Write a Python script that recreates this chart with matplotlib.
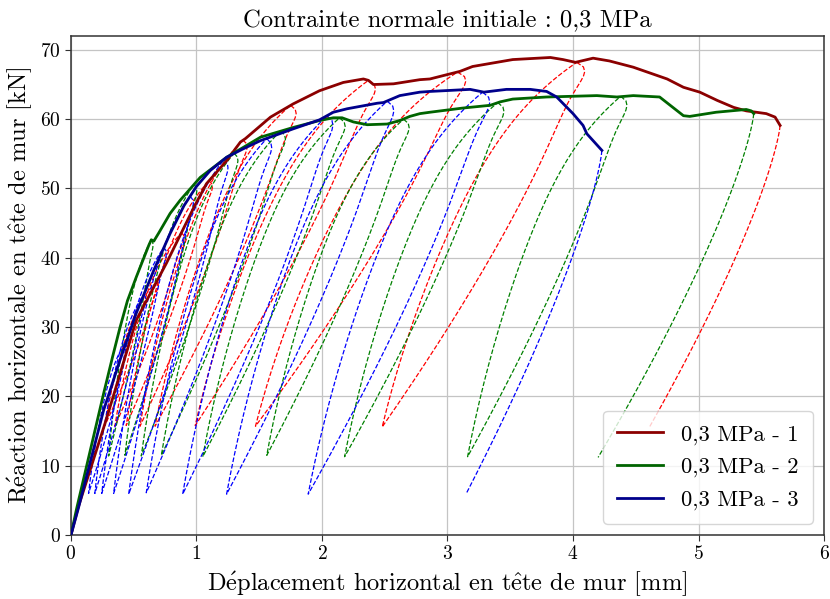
import numpy as np
import matplotlib
matplotlib.use("Agg")
import matplotlib.pyplot as plt

plt.rcParams["font.family"] = ["cmr10", "DejaVu Serif"]
plt.rcParams["mathtext.fontset"] = "cm"
plt.rcParams["axes.formatter.use_mathtext"] = True
plt.rcParams["axes.unicode_minus"] = False

# ---- monotonic envelopes (displacement mm, force kN) ----
env1_x = [0, 0.056, 0.28, 0.52, 0.76, 0.98, 1.08, 1.24, 1.35, 1.39, 1.59, 1.77, 1.98, 2.17, 2.33,
          2.37, 2.41, 2.57, 2.78, 2.86, 3.10, 3.20, 3.52, 3.82, 3.92, 4.02, 4.16, 4.29, 4.48, 4.75,
          4.88, 5.01, 5.15, 5.28, 5.38, 5.54, 5.61, 5.65]
env1_y = [0, 3.9, 16.6, 31.0, 39.2, 47.3, 50.7, 54.0, 56.7, 57.2, 60.3, 62.2, 64.1, 65.3, 65.8,
          65.6, 65.0, 65.1, 65.7, 65.8, 66.9, 67.6, 68.6, 68.9, 68.6, 68.2, 68.8, 68.4, 67.5, 65.8,
          64.6, 63.9, 62.7, 61.7, 61.2, 60.8, 60.3, 59.1]

env2_x = [0, 0.045, 0.26, 0.33, 0.39, 0.45, 0.52, 0.62, 0.64, 0.66, 0.70, 0.79, 0.87, 1.03, 1.24,
          1.51, 1.77, 1.98, 2.09, 2.16, 2.25, 2.36, 2.52, 2.62, 2.70, 2.78, 2.86, 3.12, 3.34, 3.42,
          3.52, 3.79, 4.19, 4.35, 4.48, 4.69, 4.88, 4.93, 5.14, 5.38, 5.42, 5.44]
env2_y = [0, 3.8, 20.4, 25.6, 29.9, 33.8, 37.2, 41.8, 42.6, 42.4, 43.6, 46.4, 48.3, 51.6, 54.5,
          57.4, 58.8, 59.8, 60.2, 60.2, 59.6, 59.2, 59.3, 59.8, 60.4, 60.8, 61.0, 61.6, 62.0, 62.5,
          62.9, 63.2, 63.4, 63.2, 63.4, 63.2, 60.5, 60.4, 61.0, 61.4, 61.2, 60.8]

env3_x = [0, 0.058, 0.26, 0.39, 0.52, 0.66, 0.79, 0.90, 1.00, 1.11, 1.24, 1.37, 1.51, 1.77, 1.98,
          2.09, 2.20, 2.44, 2.49, 2.62, 2.78, 2.86, 3.18, 3.29, 3.47, 3.66, 3.79, 3.87, 4.00, 4.08,
          4.11, 4.23]
env3_y = [0, 3.8, 18.0, 25.2, 32.0, 38.2, 43.5, 47.5, 50.3, 52.6, 54.5, 55.7, 56.9, 58.6, 59.9,
          61.0, 61.5, 62.3, 62.4, 63.4, 63.9, 64.0, 64.3, 63.9, 64.3, 64.3, 64.0, 63.2, 60.8, 59.1,
          57.9, 55.5]

# ---- unloading / reloading cycles: start point on the envelope and lowest point ----
cyc1_peak_x = [0.68, 0.88, 1.10, 1.37, 1.75, 2.37, 3.08, 4.03, 5.65]
cyc1_peak_y = [36.5, 43.6, 51.1, 57.0, 62.0, 65.6, 66.8, 68.2, 59.1]
cyc1_base_x = [0.27, 0.35, 0.44, 0.55, 0.67, 0.99, 1.47, 2.48, 4.61]
cyc1_base_y = [15.8, 15.7, 15.8, 15.7, 15.7, 15.8, 15.7, 15.6, 15.6]

cyc2_peak_x = [0.64, 0.98, 1.30, 1.67, 2.14, 2.65, 3.40, 4.38, 5.44]
cyc2_peak_y = [42.6, 50.6, 55.1, 58.3, 60.2, 60.0, 62.4, 63.3, 60.8]
cyc2_base_x = [0.30, 0.43, 0.56, 0.72, 1.05, 1.56, 2.18, 3.16, 4.20]
cyc2_base_y = [11.4, 11.5, 11.4, 11.5, 11.3, 11.5, 11.3, 11.3, 11.2]

cyc3_peak_x = [0.45, 0.58, 0.74, 0.95, 1.22, 1.56, 2.04, 2.52, 3.28, 4.23]
cyc3_peak_y = [28.3, 34.7, 41.5, 48.9, 54.2, 57.2, 60.5, 62.6, 63.9, 55.5]
cyc3_base_x = [0.14, 0.19, 0.245, 0.34, 0.46, 0.60, 0.89, 1.24, 1.89, 3.15]
cyc3_base_y = [6.0, 6.0, 6.0, 6.0, 5.9, 6.1, 5.9, 5.9, 5.9, 6.0]

labels = ["0,3 MPa - 1", "0,3 MPa - 2", "0,3 MPa - 3"]
env_colors = ["#8b0000", "#006400", "#00008b"]
cyc_colors = ["#ff0000", "#008000", "#0000ff"]


def cycle_curve(px, py, bx, by, last):
    """One unloading branch (peak -> base) followed by the reloading branch."""
    t = np.linspace(0.0, 1.0, 80)
    nose = 0.0 if last else 0.05 * (px - bx)
    ux = px - (px - bx) * t ** 1.3 + nose * (t / 0.03) * np.exp(1 - t / 0.03)
    uy = py - (py - by) * t
    if last:
        return ux, uy
    rx = bx + (px - bx) * (0.45 * t + 0.35 * t ** 2 + 0.2 * t ** 8)
    ry = by + (py - by) * t
    return np.concatenate([ux, rx[1:]]), np.concatenate([uy, ry[1:]])


fig = plt.figure(figsize=(8.30, 5.99), dpi=100)
ax = fig.add_axes([0.0855, 0.1068, 0.9073, 0.8331])

envs = [(env1_x, env1_y), (env2_x, env2_y), (env3_x, env3_y)]
cycles = [(cyc1_peak_x, cyc1_peak_y, cyc1_base_x, cyc1_base_y),
          (cyc2_peak_x, cyc2_peak_y, cyc2_base_x, cyc2_base_y),
          (cyc3_peak_x, cyc3_peak_y, cyc3_base_x, cyc3_base_y)]

for (pxs, pys, bxs, bys), col in zip(cycles, cyc_colors):
    n = len(pxs)
    for i in range(n):
        cx, cy = cycle_curve(pxs[i], pys[i], bxs[i], bys[i], i == n - 1)
        ax.plot(cx, cy, ls="--", lw=0.9, color=col, zorder=2)

for (ex, ey), col, lab in zip(envs, env_colors, labels):
    ax.plot(ex, ey, ls="-", lw=2.0, color=col, label=lab, zorder=3)

ax.set_xlim(0, 6)
ax.set_ylim(0, 72)
ax.set_xticks(range(0, 7))
ax.set_yticks(range(0, 71, 10))
ax.grid(True, color="#c4c4c4", lw=0.9)
ax.set_axisbelow(True)
for s in ax.spines.values():
    s.set_color("#333333")
    s.set_linewidth(1.1)
ax.tick_params(labelsize=14, length=4, color="#333333")

ax.set_title("Contrainte normale initiale : 0,3 MPa", fontsize=17.8, pad=6)
ax.set_xlabel(r"D$\mathrm{\acute{e}}$placement horizontal en t$\mathrm{\hat{e}}$te de mur [mm]", fontsize=17.6)
ax.set_ylabel(r"R$\mathrm{\acute{e}}$action horizontale en t$\mathrm{\hat{e}}$te de mur [kN]", fontsize=17.6)

ax.legend(loc="lower right", fontsize=16.3, handlelength=2.05, framealpha=0.8,
          borderpad=0.6, labelspacing=0.55)

fig.savefig("out.png", dpi=100)
